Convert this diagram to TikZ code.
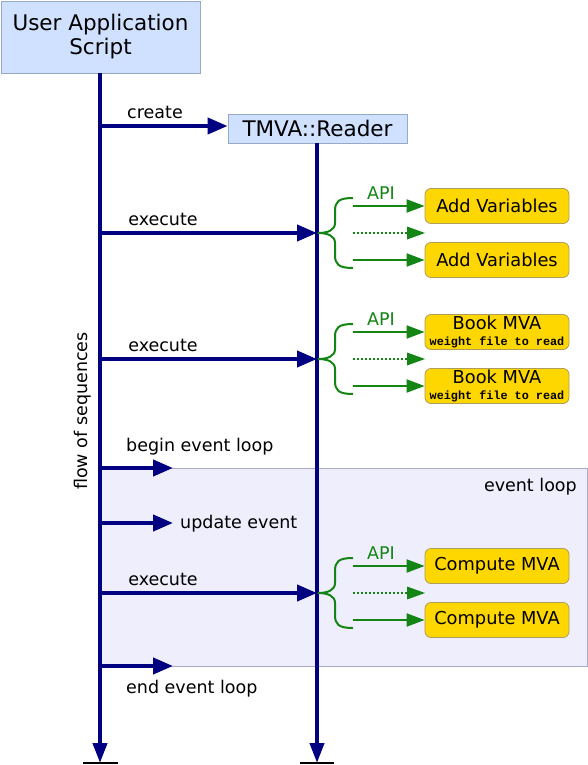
\documentclass[tikz,border=0pt]{standalone}
\usepackage{fontspec}
\setmainfont{DejaVu Sans}
\newfontfamily\wmono{Liberation Mono}
\usetikzlibrary{arrows.meta}
\definecolor{navy}{RGB}{0,0,128}
\definecolor{apigreen}{RGB}{20,132,20}
\definecolor{boxblue}{RGB}{208,224,255}
\definecolor{boxblueborder}{RGB}{150,170,200}
\definecolor{gold}{RGB}{255,215,0}
\definecolor{goldborder}{RGB}{175,155,90}
\definecolor{loopfill}{RGB}{238,238,252}
\definecolor{loopborder}{RGB}{170,170,200}
\tikzset{
  actor/.style={draw=boxblueborder, fill=boxblue, line width=0.8pt, inner sep=0pt, align=center, font=\fontsize{21.5}{24}\selectfont},
  lifeline/.style={draw=navy, line width=4pt, -{Triangle[length=20pt,width=14pt]}},
  msg/.style={draw=navy, line width=4pt, -{Triangle[length=20pt,width=16pt]}},
  msglabel/.style={font=\fontsize{17.5}{20}\selectfont, inner sep=0pt},
  apiarrow/.style={draw=apigreen, line width=2pt, -{Triangle[length=18pt,width=13pt]}},
  apidots/.style={draw=apigreen, line width=2pt, dotted, -{Triangle[length=18pt,width=13pt,line width=0pt]}},
  apibrace/.style={draw=apigreen, line width=2pt},
  apilabel/.style={text=apigreen, font=\fontsize{17.5}{20}\selectfont, inner sep=0pt},
  callbox/.style={draw=goldborder, fill=gold, line width=0.8pt, rounded corners=6pt, minimum width=144pt, minimum height=35pt, inner sep=0pt, align=center, font=\fontsize{17.8}{20}\selectfont},
  endbar/.style={draw=black, line width=1.5pt},
}
\newcommand{\wfile}{\\[-4pt]{\wmono\bfseries\fontsize{11.8}{13}\selectfont weight file to read}}
\begin{document}
\begin{tikzpicture}[x=1pt,y=-1pt]
\useasboundingbox (0,0) rectangle (588,765);
% event loop region
\node[draw=loopborder, fill=loopfill, line width=0.8pt, minimum width=487pt, minimum height=198pt, inner sep=0pt, anchor=north west] (loop) at (100,468) {};
\node[msglabel, anchor=east] (looplabel) at (577,487) {event loop};

% actors
\node[actor, minimum width=199pt, minimum height=72pt] (user) at (100.5,37) {User Application\\Script};
\node[actor, minimum width=179pt, minimum height=29pt] (reader) at (317.5,128.5) {TMVA::Reader};

% lifelines
\coordinate (userend) at (100,763);
\coordinate (readerend) at (317,763);
\draw[lifeline] (user.south -| userend) -- (userend);
\draw[lifeline] (reader.south -| readerend) -- (readerend);
\coordinate (ubarL) at (83,763);
\coordinate (ubarR) at (118,763);
\coordinate (rbarL) at (300,763);
\coordinate (rbarR) at (334,763);
\draw[endbar] (ubarL) -- (ubarR);
\draw[endbar] (rbarL) -- (rbarR);

% flow label
\node[msglabel, rotate=90] (flow) at (83,411) {flow of sequences};

% create
\coordinate (ucreate) at (100,126);
\draw[msg] (ucreate) -- (reader.west |- ucreate);
\node[msglabel] (createlbl) at (155,112) {create};

% generic execute block
\newcommand{\execblock}[5]{%
  \coordinate (#3u) at (100,#1);
  \coordinate (#3r) at (317,#1);
  \draw[msg] (#3u) -- (#3r);
  \node[msglabel] (#3lbl) at (163,#1-14) {execute};
  \coordinate (#3tip) at (318,#1);
  \coordinate (#3top) at (353,#1-35);
  \coordinate (#3bot) at (353,#1+35);
  \draw[apibrace] (#3top) .. controls (338,#1-35) and (335,#1-31) .. (335,#1-22)
     -- (335,#1-10) .. controls (335,#1-3) and (328,#1) .. (#3tip)
     .. controls (328,#1) and (335,#1+3) .. (335,#1+10)
     -- (335,#1+22) .. controls (335,#1+31) and (338,#1+35) .. (#3bot);
  \node[apilabel] (#3api) at (381,#1-40) {API};
  \node[callbox] (#3boxA) at (497,#1-27) {#4};
  \node[callbox] (#3boxB) at (497,#1+27) {#5};
  \coordinate (#3sa) at (353,#1-27);
  \coordinate (#3sd) at (353,#1);
  \coordinate (#3ed) at (425,#1);
  \coordinate (#3sb) at (353,#1+27);
  \draw[apiarrow] (#3sa) -- (#3boxA.west);
  \draw[apidots] (#3sd) -- (#3ed);
  \draw[apiarrow] (#3sb) -- (#3boxB.west);
}
\execblock{233}{219}{ea}{Add Variables}{Add Variables}
\execblock{359}{345}{eb}{Book MVA\wfile}{Book MVA\wfile}
\execblock{593}{579}{ec}{Compute MVA}{Compute MVA}

% event loop messages
\coordinate (ubegin) at (100,468);
\coordinate (ebegin) at (173,468);
\draw[msg] (ubegin) -- (ebegin);
\node[msglabel, anchor=west] (beginlbl) at (126,447) {begin event loop};
\coordinate (uupdate) at (100,523);
\coordinate (eupdate) at (173,523);
\draw[msg] (uupdate) -- (eupdate);
\node[msglabel, anchor=west] (updatelbl) at (180,524) {update event};
\coordinate (uend) at (100,666);
\coordinate (eend) at (173,666);
\draw[msg] (uend) -- (eend);
\node[msglabel, anchor=west] (endlbl) at (126,689) {end event loop};
\end{tikzpicture}
\end{document}
